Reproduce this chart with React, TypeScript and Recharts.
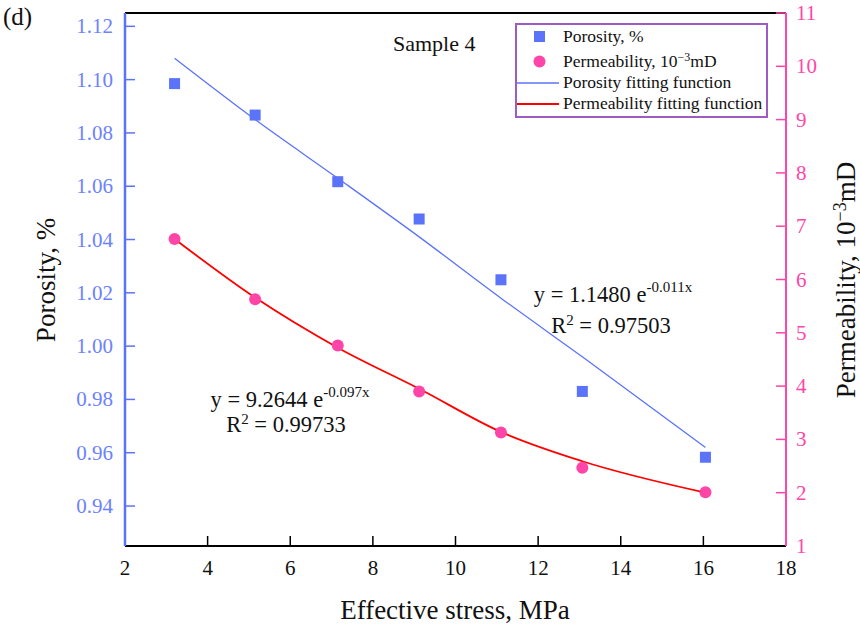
import React from 'react';
import { ComposedChart, Scatter, Line, XAxis, YAxis, ReferenceLine, Legend } from 'recharts';

document.body.style.margin = '0';

// values
const stress = [3.2, 5.15, 7.15, 9.12, 11.1, 13.07, 16.05];
const porosity = [1.0985, 1.0867, 1.0617, 1.0477, 1.0249, 0.983, 0.9583];
const permeability = [6.76, 5.63, 4.76, 3.9, 3.13, 2.47, 2.01];
const porosityFit = [1.108, 1.085, 1.063, 1.041, 1.018, 0.996, 0.962];
const permeabilityFit = [6.76, 5.66, 4.72, 3.95, 3.14, 2.59, 2.0];

const xTicks = [2, 4, 6, 8, 10, 12, 14, 16, 18];
const porosityTicks = [0.94, 0.96, 0.98, 1.0, 1.02, 1.04, 1.06, 1.08, 1.1, 1.12];
const permTicks = [1, 2, 3, 4, 5, 6, 7, 8, 9, 10, 11];

const BLUE = '#5b73f8';
const BLUE_TEXT = '#6b82ff';
const PINK = '#ff45a8';
const RED = '#ff0000';
const PURPLE = '#9d5cc2';
const SERIF = '"Liberation Serif", "Times New Roman", serif';

const porosityData = stress.map((x, i) => ({ x, y: porosity[i] }));
const permData = stress.map((x, i) => ({ x, y: permeability[i] }));
const porosityFitData = stress.map((x, i) => ({ x, y: porosityFit[i] }));
const permFitData = stress.map((x, i) => ({ x, y: permeabilityFit[i] }));

const SquareDot = (props: any) => (
  <rect x={props.cx - 5.5} y={props.cy - 5.5} width={11} height={11} fill={BLUE} />
);
const CircleDot = (props: any) => <circle cx={props.cx} cy={props.cy} r={6} fill={PINK} />;

// ticks point into the plot, like the original
const BottomTick = (props: any) => {
  const { x, y, payload } = props;
  return (
    <g>
      {payload.value !== 2 && payload.value !== 18 && (
        <line x1={x} x2={x} y1={y} y2={y - 10} stroke="#000" strokeWidth={1.5} />
      )}
      <text x={x} y={y + 29} textAnchor="middle" fontSize={21} fontFamily={SERIF} fill="#111">
        {payload.value}
      </text>
    </g>
  );
};

const LeftTick = (props: any) => {
  const { x, y, payload } = props;
  return (
    <g>
      <line x1={x} x2={x + 10} y1={y} y2={y} stroke={BLUE} strokeWidth={1.5} />
      <text x={x - 12} y={y + 7} textAnchor="end" fontSize={21} fontFamily={SERIF} fill={BLUE_TEXT}>
        {payload.value.toFixed(2)}
      </text>
    </g>
  );
};

const RightTick = (props: any) => {
  const { x, y, payload } = props;
  return (
    <g>
      {payload.value !== 1 && payload.value !== 11 && (
        <line x1={x} x2={x - 10} y1={y} y2={y} stroke={PINK} strokeWidth={1.5} />
      )}
      {payload.value === 11 && <line x1={x} x2={x - 10} y1={y} y2={y} stroke={PINK} strokeWidth={1.5} />}
      <text x={x + 10} y={y + 7} textAnchor="start" fontSize={21} fontFamily={SERIF} fill={PINK}>
        {payload.value}
      </text>
    </g>
  );
};

const renderLegend = () => (
  <svg width={253} height={95} style={{ display: 'block' }}>
    <rect x={1} y={1} width={251} height={93} fill="#fff" stroke={PURPLE} strokeWidth={2} />
    <g fontFamily={SERIF} fontSize={17.5} fill="#111">
      <rect x={19} y={8} width={11} height={11} fill={BLUE} />
      <text x={48} y={19}>Porosity, %</text>
      <circle cx={24.5} cy={38.5} r={6} fill={PINK} />
      <text x={48} y={44}>
        Permeability, 10
        <tspan dy={-6} fontSize={12}>−3</tspan>
        <tspan dy={6}>mD</tspan>
      </text>
      <line x1={2} x2={44} y1={60} y2={60} stroke={BLUE} strokeWidth={1.3} />
      <text x={48} y={65}>Porosity fitting function</text>
      <line x1={2} x2={44} y1={81} y2={81} stroke={RED} strokeWidth={1.8} />
      <text x={48} y={86}>Permeability fitting function</text>
    </g>
  </svg>
);

const App: React.FC = () => {
  return (
    <div style={{ position: 'relative', width: 860, height: 630, background: '#fff' }}>
      <ComposedChart width={860} height={630} margin={{ top: 13, right: 0, bottom: 0, left: 0 }}>
        <XAxis
          type="number"
          dataKey="x"
          domain={[2, 18]}
          ticks={xTicks}
          height={84}
          axisLine={{ stroke: '#000', strokeWidth: 2 }}
          tickLine={false}
          tickSize={0}
          tickMargin={0}
          tick={<BottomTick />}
        />
        <YAxis
          yAxisId="left"
          type="number"
          domain={[0.925, 1.125]}
          ticks={porosityTicks}
          width={125}
          axisLine={{ stroke: BLUE, strokeWidth: 2.5 }}
          tickLine={false}
          tickSize={0}
          tickMargin={0}
          tick={<LeftTick />}
        />
        <YAxis
          yAxisId="right"
          orientation="right"
          type="number"
          domain={[1, 11]}
          ticks={permTicks}
          width={74}
          axisLine={{ stroke: PINK, strokeWidth: 2 }}
          tickLine={false}
          tickSize={0}
          tickMargin={0}
          tick={<RightTick />}
        />
        <ReferenceLine yAxisId="left" y={1.125} stroke="#000" strokeWidth={2} />
        <Legend
          layout="vertical"
          align="center"
          verticalAlign="middle"
          content={renderLegend}
          wrapperStyle={{ position: 'absolute', left: 515, top: 23, width: 253, height: 95 }}
        />
        <Scatter
          yAxisId="left"
          data={porosityData}
          dataKey="y"
          shape={SquareDot}
          isAnimationActive={false}
        />
        <Scatter
          yAxisId="right"
          data={permData}
          dataKey="y"
          shape={CircleDot}
          isAnimationActive={false}
        />
        <Line
          yAxisId="left"
          data={porosityFitData}
          dataKey="y"
          type="monotone"
          stroke={BLUE}
          strokeWidth={1.3}
          dot={false}
          isAnimationActive={false}
        />
        <Line
          yAxisId="right"
          data={permFitData}
          dataKey="y"
          type="monotone"
          stroke={RED}
          strokeWidth={1.8}
          dot={false}
          isAnimationActive={false}
        />
      </ComposedChart>
      <svg
        width={860}
        height={630}
        style={{ position: 'absolute', left: 0, top: 0, pointerEvents: 'none' }}
        fontFamily={SERIF}
        fill="#111"
      >
        <text x={3} y={25} fontSize={25}>(d)</text>
        <text x={393} y={51} fontSize={22}>Sample 4</text>
        <text x={613} y={302} fontSize={22.5} textAnchor="middle">
          y = 1.1480 e
          <tspan dy={-10} fontSize={15}>-0.011x</tspan>
        </text>
        <text x={611} y={333} fontSize={22.5} textAnchor="middle">
          R<tspan dy={-8} fontSize={15}>2</tspan>
          <tspan dy={8}> = 0.97503</tspan>
        </text>
        <text x={290} y={407} fontSize={22.5} textAnchor="middle">
          y = 9.2644 e
          <tspan dy={-10} fontSize={15}>-0.097x</tspan>
        </text>
        <text x={286} y={432} fontSize={22.5} textAnchor="middle">
          R<tspan dy={-8} fontSize={15}>2</tspan>
          <tspan dy={8}> = 0.99733</tspan>
        </text>
        <text x={455} y={619} fontSize={27} textAnchor="middle">
          Effective stress, MPa
        </text>
        <text x={55} y={280} fontSize={27} textAnchor="middle" transform="rotate(-90 55 280)">
          Porosity, %
        </text>
        <text x={855} y={280} fontSize={27} textAnchor="middle" transform="rotate(-90 855 280)">
          Permeability, 10
          <tspan dy={-9} fontSize={18}>−3</tspan>
          <tspan dy={9}>mD</tspan>
        </text>
      </svg>
    </div>
  );
};

export default App;
